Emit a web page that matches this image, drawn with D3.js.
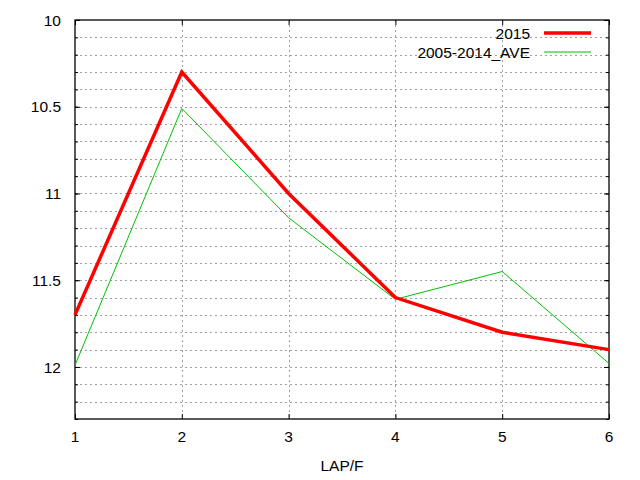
<!DOCTYPE html>
<html>
<head>
<meta charset="utf-8">
<script src="https://d3js.org/d3.v7.min.js"></script>
<style>
  body { margin: 0; background: #fff; }
  svg text { font-family: "Liberation Sans", Arial, sans-serif; font-size: 15.5px; fill: #000; }
</style>
</head>
<body>
<div id="data"></div>
<script>
const laps = [1, 2, 3, 4, 5, 6]
const times2015 = [11.7, 10.3, 11.0, 11.6, 11.8, 11.9]
const timesAve = [11.99, 10.51, 11.14, 11.61, 11.45, 11.98]
const seriesNames = ['2015', '2005-2014_AVE']
const yTicks = [10, 10.5, 11, 11.5, 12]
const xLabel = 'LAP/F'

const plotData = () => {
  const w = 640
  const h = 480
  const left = 75
  const right = 609
  const top = 20
  const bottom = 419

  const xScale = d3.scaleLinear()
                   .domain([1, 6])
                   .range([left, right])

  // times go down the page
  const yScale = d3.scaleLinear()
                   .domain([10, 12.3])
                   .range([top, bottom])

  const svg = d3.select('#data')
                .append('svg')
                .attr('width', w)
                .attr('height', h)

  const minor = d3.range(10, 12.31, 0.1).map(d => +d.toFixed(1))

  // dotted grid
  svg.append('g')
     .selectAll('line')
     .data(minor.filter(d => d > 10 && d < 12.3))
     .enter()
     .append('line')
     .attr('x1', left).attr('x2', right)
     .attr('y1', d => Math.round(yScale(d)) + 0.5)
     .attr('y2', d => Math.round(yScale(d)) + 0.5)
     .attr('stroke', '#a0a0a0')
     .attr('stroke-dasharray', '2,3')

  svg.append('g')
     .selectAll('line')
     .data(laps.slice(1, -1))
     .enter()
     .append('line')
     .attr('y1', top).attr('y2', bottom)
     .attr('x1', d => Math.round(xScale(d)) + 0.5)
     .attr('x2', d => Math.round(xScale(d)) + 0.5)
     .attr('stroke', '#a0a0a0')
     .attr('stroke-dasharray', '2,3')

  // axes, ticks pointing inward on all four sides
  const yLeft = d3.axisRight(yScale).tickValues(yTicks).tickSize(5).tickFormat('')
  const yLeftMinor = d3.axisRight(yScale).tickValues(minor).tickSize(3).tickFormat('')
  const yRight = d3.axisLeft(yScale).tickValues(yTicks).tickSize(5).tickFormat('')
  const yRightMinor = d3.axisLeft(yScale).tickValues(minor).tickSize(3).tickFormat('')
  const xBottom = d3.axisTop(xScale).tickValues(laps).tickSize(5).tickFormat('')
  const xTop = d3.axisBottom(xScale).tickValues(laps).tickSize(5).tickFormat('')

  svg.append('g').attr('transform', 'translate(' + left + ',0)').call(yLeft)
  svg.append('g').attr('transform', 'translate(' + left + ',0)').call(yLeftMinor)
  svg.append('g').attr('transform', 'translate(' + right + ',0)').call(yRight)
  svg.append('g').attr('transform', 'translate(' + right + ',0)').call(yRightMinor)
  svg.append('g').attr('transform', 'translate(0,' + bottom + ')').call(xBottom)
  svg.append('g').attr('transform', 'translate(0,' + top + ')').call(xTop)

  svg.selectAll('.domain').remove()
  svg.selectAll('.tick line').attr('stroke', '#000')

  svg.append('rect')
     .attr('x', left).attr('y', top)
     .attr('width', right - left).attr('height', bottom - top)
     .attr('fill', 'none')
     .attr('stroke', '#000')
     .attr('stroke-width', 1.3)

  // tick labels
  svg.append('g')
     .selectAll('text')
     .data(yTicks)
     .enter()
     .append('text')
     .attr('x', left - 14)
     .attr('y', d => yScale(d))
     .attr('dy', '0.36em')
     .attr('text-anchor', 'end')
     .text(d => d)

  svg.append('g')
     .selectAll('text')
     .data(laps)
     .enter()
     .append('text')
     .attr('x', d => xScale(d))
     .attr('y', 442)
     .attr('text-anchor', 'middle')
     .text(d => d)

  svg.append('text')
     .attr('x', (left + right) / 2)
     .attr('y', 471)
     .attr('text-anchor', 'middle')
     .text(xLabel)

  // series
  const line = d3.line()
                 .x((d, i) => xScale(laps[i]))
                 .y(d => yScale(d))

  svg.append('path')
     .datum(timesAve)
     .attr('d', line)
     .attr('fill', 'none')
     .attr('stroke', '#00c000')
     .attr('stroke-width', 1)

  svg.append('path')
     .datum(times2015)
     .attr('d', line)
     .attr('fill', 'none')
     .attr('stroke', '#ff0000')
     .attr('stroke-width', 3.5)
     .attr('stroke-linejoin', 'miter')

  // legend
  const legend = svg.append('g')
  const colors = ['#ff0000', '#00c000']
  const widths = [3.5, 1]
  seriesNames.forEach((name, i) => {
    const y = 33 + i * 19
    legend.append('text')
          .attr('x', 530)
          .attr('y', y)
          .attr('dy', '0.36em')
          .attr('text-anchor', 'end')
          .text(name)
    legend.append('line')
          .attr('x1', 544).attr('x2', 591)
          .attr('y1', y).attr('y2', y)
          .attr('stroke', colors[i])
          .attr('stroke-width', widths[i])
  })
}

document.addEventListener('DOMContentLoaded', plotData)
</script>
</body>
</html>
